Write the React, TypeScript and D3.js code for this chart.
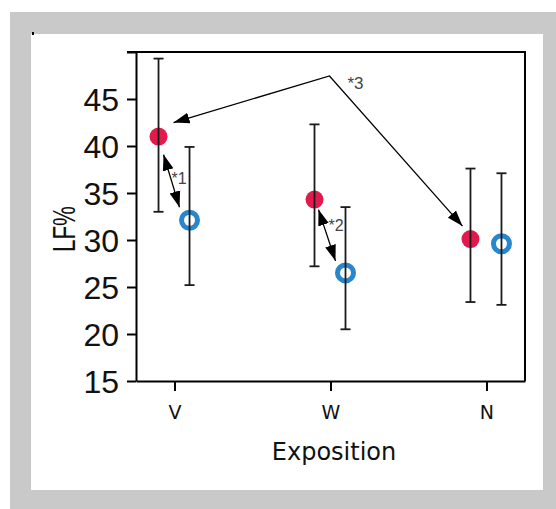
import React, { useEffect, useRef } from "react";
import * as d3 from "d3";

const categories = ["V", "W", "N"];
const series = ["red", "blue"];

// filled red points
const redMean = [41.0, 34.3, 30.1];
const redLow = [33.0, 27.2, 23.4];
const redHigh = [49.3, 42.3, 37.6];

// open blue points
const blueMean = [32.1, 26.5, 29.6];
const blueLow = [25.2, 20.5, 23.1];
const blueHigh = [39.9, 33.5, 37.1];

const yTicks = [15, 20, 25, 30, 35, 40, 45, 50];

const App = () => {
  const ref = useRef<SVGSVGElement>(null);

  useEffect(() => {
    const svg = d3.select(ref.current);
    svg.selectAll("*").remove();

    const W = 556;
    const H = 509;
    const left = 136, right = 525, top = 52, bottom = 381;

    // background panels
    svg.append("rect").attr("width", W).attr("height", H).attr("fill", "#fff");
    svg.append("rect").attr("x", 10).attr("y", 12).attr("width", W - 10).attr("height", H - 12).attr("fill", "#c9c9c9");
    svg.append("rect").attr("x", 31).attr("y", 34).attr("width", 512).attr("height", 456).attr("fill", "#fff");
    svg.append("rect").attr("x", 32).attr("y", 32).attr("width", 2).attr("height", 3).attr("fill", "#000");

    const y = d3.scaleLinear().domain([15, 50]).range([bottom, top]);
    const x = d3.scalePoint<string>().domain(categories).range([left, right]).padding(0.247);
    const off = d3.scalePoint<string>().domain(series).range([-16, 15]);

    const defs = svg.append("defs");
    defs.append("marker")
      .attr("id", "head")
      .attr("markerUnits", "userSpaceOnUse")
      .attr("viewBox", "0 -6 16 12")
      .attr("refX", 16)
      .attr("refY", 0)
      .attr("markerWidth", 16)
      .attr("markerHeight", 12)
      .attr("orient", "auto-start-reverse")
      .append("path")
      .attr("d", "M0,-5.5L16,0L0,5.5Z")
      .attr("fill", "#000");

    // axes
    const yAxis = svg.append("g")
      .attr("transform", `translate(${left},0)`)
      .call(
        d3.axisLeft(y)
          .tickValues(yTicks)
          .tickSize(9)
          .tickSizeOuter(0)
          .tickPadding(8)
          .tickFormat(d => (d === 50 ? "" : String(d)))
      );
    yAxis.select(".domain").attr("stroke-width", 2);
    yAxis.selectAll(".tick line").attr("stroke-width", 2);
    yAxis.selectAll(".tick text")
      .attr("dy", "0.37em")
      .style("font-family", "'Liberation Sans', Arial, sans-serif")
      .style("font-size", "32px")
      .attr("fill", "#111");

    const xAxis = svg.append("g")
      .attr("transform", `translate(0,${bottom})`)
      .call(d3.axisBottom(x).tickSize(10).tickSizeOuter(0));
    xAxis.select(".domain").attr("stroke-width", 2);
    xAxis.selectAll(".tick line").attr("stroke-width", 2);
    xAxis.selectAll(".tick text")
      .attr("y", 38)
      .attr("dy", 0)
      .style("font-family", "'DejaVu Sans', sans-serif")
      .style("font-size", "19px")
      .attr("fill", "#111");

    // frame top and right
    svg.append("line")
      .attr("x1", left - 9).attr("x2", right + 1)
      .attr("y1", top).attr("y2", top)
      .attr("stroke", "#000").attr("stroke-width", 2);
    svg.append("line")
      .attr("x1", right).attr("x2", right)
      .attr("y1", top).attr("y2", bottom)
      .attr("stroke", "#000").attr("stroke-width", 2);

    // axis titles
    svg.append("text")
      .attr("x", 334)
      .attr("y", 460)
      .attr("text-anchor", "middle")
      .style("font-family", "'DejaVu Sans', sans-serif")
      .style("font-size", "24px")
      .attr("fill", "#111")
      .text("Exposition");

    svg.append("text")
      .attr("transform", "translate(75,229) rotate(-90)")
      .attr("text-anchor", "middle")
      .attr("textLength", 46)
      .attr("lengthAdjust", "spacingAndGlyphs")
      .style("font-family", "'Liberation Sans', Arial, sans-serif")
      .style("font-size", "31px")
      .attr("fill", "#111")
      .text("LF%");

    const groups = [
      { key: "red", mean: redMean, low: redLow, high: redHigh },
      { key: "blue", mean: blueMean, low: blueLow, high: blueHigh },
    ];

    // markers
    groups.forEach(g => {
      const sel = svg.append("g")
        .selectAll("circle")
        .data(categories)
        .join("circle")
        .attr("cx", c => x(c)! + off(g.key)!)
        .attr("cy", (c, i) => y(g.mean[i]));
      if (g.key === "red") {
        sel.attr("r", 9).attr("fill", "#e2194b");
      } else {
        sel.attr("r", 8).attr("fill", "none").attr("stroke", "#2a86cc").attr("stroke-width", 5);
      }
    });

    // error bars on top of markers
    groups.forEach(g => {
      const eb = svg.append("g")
        .attr("stroke", "#1a1a1a")
        .attr("stroke-width", 1.8)
        .selectAll("g")
        .data(categories)
        .join("g")
        .attr("transform", c => `translate(${x(c)! + off(g.key)!},0)`);
      eb.append("line")
        .attr("y1", (c, i) => y(g.low[i]))
        .attr("y2", (c, i) => y(g.high[i]));
      eb.append("line").attr("x1", -5).attr("x2", 5)
        .attr("y1", (c, i) => y(g.low[i])).attr("y2", (c, i) => y(g.low[i]));
      eb.append("line").attr("x1", -5).attr("x2", 5)
        .attr("y1", (c, i) => y(g.high[i])).attr("y2", (c, i) => y(g.high[i]));
    });

    // annotations
    const pt = (key: string, i: number) => {
      const g = groups.find(d => d.key === key)!;
      return [x(categories[i])! + off(key)!, y(g.mean[i])];
    };
    const ann = svg.append("g").attr("fill", "none").attr("stroke", "#000").attr("stroke-width", 1.3);

    const pair = (i: number, a: number[], b: number[], label: string, lx: number, ly: number) => {
      const r = pt("red", i);
      const bl = pt("blue", i);
      ann.append("line")
        .attr("x1", r[0] + a[0]).attr("y1", r[1] + a[1])
        .attr("x2", bl[0] + b[0]).attr("y2", bl[1] + b[1])
        .attr("marker-start", "url(#head)")
        .attr("marker-end", "url(#head)");
      svg.append("text")
        .attr("x", r[0] + lx).attr("y", r[1] + ly)
        .style("font-family", "'Liberation Sans', Arial, sans-serif")
        .style("font-size", "16px")
        .attr("fill", "#444")
        .text(label);
    };
    pair(0, [5, 18], [-10, -13], "*1", 13, 47);
    pair(1, [4, 10], [-10, -12], "*2", 14, 31);

    const apex = [x("W")! - 1, y(47.45)];
    const rv = pt("red", 0);
    const rn = pt("red", 2);
    ann.append("path")
      .attr("d", d3.line()([[rv[0] + 15, rv[1] - 14], apex as [number, number], [rn[0] - 8, rn[1] - 13]]))
      .attr("marker-start", "url(#head)")
      .attr("marker-end", "url(#head)");
    svg.append("text")
      .attr("x", apex[0] + 18).attr("y", apex[1] + 13)
      .style("font-family", "'Liberation Sans', Arial, sans-serif")
      .style("font-size", "17px")
      .attr("fill", "#444")
      .text("*3");
  }, []);

  return (
    <svg
      ref={ref}
      width={556}
      height={509}
      style={{ position: "absolute", left: 0, top: 0, display: "block" }}
    />
  );
};

export default App;
